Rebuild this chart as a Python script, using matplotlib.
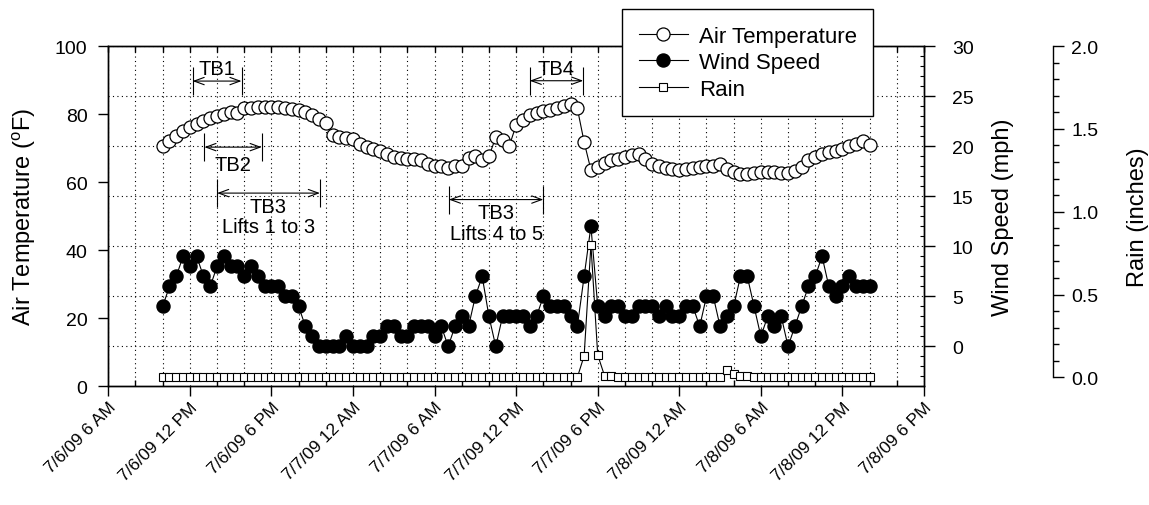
import matplotlib
matplotlib.use('Agg')
import matplotlib.pyplot as plt
import matplotlib.dates as mdates
import matplotlib.ticker as mticker
import pandas as pd

plt.rcParams['font.family'] = ['Liberation Sans', 'DejaVu Sans']

# half-hourly weather station readings
times = pd.date_range('2009-07-06 10:00', periods=105, freq='30min')

air_temp = [70.6, 72.2, 73.7, 75.0, 76.2, 77.1, 77.9, 78.8, 79.4, 80.1,
            80.7, 80.4, 81.7, 81.8, 82.0, 82.0, 82.0, 82.0, 81.8, 81.5,
            81.2, 80.5, 79.6, 78.6, 77.3, 73.9, 73.2, 72.9, 72.7, 71.3,
            70.3, 69.8, 69.3, 68.3, 67.5, 67.1, 66.9, 66.9, 66.4, 65.4,
            64.9, 64.7, 64.2, 64.7, 64.9, 67.2, 67.8, 66.4, 67.6, 73.2,
            72.4, 70.7, 76.8, 78.4, 79.6, 80.4, 81.0, 81.3, 81.8, 82.5,
            83.0, 81.7, 71.8, 63.6, 64.4, 65.7, 66.6, 66.9, 67.3, 68.0,
            68.3, 66.9, 65.4, 64.7, 64.1, 63.9, 63.6, 63.9, 64.1, 64.4,
            64.7, 64.9, 65.4, 63.9, 62.9, 62.4, 62.4, 62.6, 62.9, 62.9,
            62.9, 62.6, 62.6, 63.2, 64.4, 66.4, 67.3, 68.3, 68.8, 69.3,
            69.8, 70.6, 71.3, 72.2, 71.0]

wind_speed = [4, 6, 7, 9, 8, 9, 7, 6, 8, 9, 8, 8, 7, 8, 7, 6, 6, 6, 5, 5,
              4, 2, 1, 0, 0, 0, 0, 1, 0, 0, 0, 1, 1, 2, 2, 1, 1, 2, 2, 2,
              1, 2, 0, 2, 3, 2, 5, 7, 3, 0, 3, 3, 3,
              3, 2, 3, 5, 4, 4, 4, 3, 2, 7, 12, 4, 3, 4, 4, 3, 3, 4, 4, 4,
              3, 4, 3, 3, 4, 4, 2, 5, 5, 2, 3, 4, 7, 7, 4, 1, 3, 2, 3, 0,
              2, 4, 6, 7, 9, 6, 5, 6, 7, 6, 6, 6]

rain = [0.0] * 105
rain[62], rain[63], rain[64], rain[65], rain[66] = 0.13, 0.80, 0.135, 0.01, 0.01
rain[83], rain[84], rain[85], rain[86] = 0.045, 0.02, 0.01, 0.01

# test block windows
tb_labels = ['TB1', 'TB2', 'TB3\nLifts 1 to 3', 'TB4', 'TB3\nLifts 4 to 5']
tb_start = ['2009-07-06 12:12', '2009-07-06 13:04', '2009-07-06 14:00',
            '2009-07-07 13:00', '2009-07-07 07:03']
tb_end = ['2009-07-06 15:48', '2009-07-06 17:17', '2009-07-06 21:34',
          '2009-07-07 16:56', '2009-07-07 14:00']
tb_level = [89.7, 70.3, 56.8, 89.8, 54.9]

fig = plt.figure(figsize=(11.49, 5.06), dpi=100)
ax = fig.add_axes([0.09426, 0.23419, 0.70992, 0.67292])
ax_w = ax.twinx()
ax_r = ax.twinx()
ax_w.set_zorder(1)
ax.set_zorder(2)
ax_r.set_zorder(3)
ax.patch.set_visible(False)

dots = (0, (1, 3))

l1, = ax.plot(times, air_temp, '-o', color='k', mfc='w', mec='k', ms=9.4,
              mew=0.9, lw=0.8, label='Air Temperature')
l2, = ax_w.plot(times, wind_speed, '-o', color='k', ms=9.4, lw=0.8,
                label='Wind Speed')
l3, = ax_r.plot(times, rain, '-s', color='k', mfc='w', ms=5.2, mew=0.8,
                lw=0.8, label='Rain')

ax.set_xlim(pd.Timestamp('2009-07-06 06:00'), pd.Timestamp('2009-07-08 18:00'))
ax.set_ylim(0, 100)
ax_w.set_ylim(-4, 30)
ax_r.set_ylim(-0.055, 2.0)

# x axis: 6-hour labels, 2-hour minor ticks
def fmt_time(x, pos=None):
    d = mdates.num2date(x)
    h = d.hour % 12 or 12
    ampm = 'AM' if d.hour < 12 else 'PM'
    return f'{d.month}/{d.day}/{d:%y} {h} {ampm}'

ax.xaxis.set_major_locator(mdates.HourLocator(byhour=[0, 6, 12, 18]))
ax.xaxis.set_minor_locator(mdates.HourLocator(byhour=range(0, 24, 2)))
ax.xaxis.set_major_formatter(mticker.FuncFormatter(fmt_time))
ax.tick_params(axis='x', which='major', direction='out', length=7, width=1,
               labelsize=12.5, pad=2)
ax.tick_params(axis='x', which='minor', direction='in', length=4, width=1)
plt.setp(ax.get_xticklabels(), rotation=45, ha='right', rotation_mode='anchor')

# top ticks and the dotted grid live on the wind axes (drawn underneath)
ax_w.xaxis.set_visible(True)
ax_w.tick_params(axis='x', which='both', bottom=False, top=True,
                 labelbottom=False, labeltop=False, direction='in',
                 length=4, width=1)
ax_w.grid(True, which='both', axis='x', color='k', lw=0.8, linestyle=dots)
ax_w.grid(True, which='major', axis='y', color='k', lw=0.8, linestyle=dots)

ax.set_yticks(range(0, 101, 20))
ax.tick_params(axis='y', direction='out', length=7, width=1, labelsize=14, pad=8)
ax.set_ylabel(r'Air Temperature ($\mathregular{^o}$F)', fontsize=17)
ax.yaxis.set_label_coords(-0.0861, 0.5)

ax_w.set_yticks(range(0, 31, 5))
ax_w.yaxis.set_minor_locator(mticker.MultipleLocator(1))
ax_w.tick_params(axis='y', which='major', direction='out', length=8, width=1,
                 labelsize=14, pad=12)
ax_w.tick_params(axis='y', which='minor', direction='in', length=3, width=0.8)
ax_w.set_ylabel('Wind Speed (mph)', fontsize=17)
ax_w.yaxis.set_label_coords(1.0832, 0.5)

ax_r.spines['right'].set_position(('axes', 1.1582))
ax_r.spines['right'].set_bounds(0, 2)
for s in ['left', 'top', 'bottom']:
    ax_r.spines[s].set_visible(False)
ax_r.set_yticks([0, 0.5, 1.0, 1.5, 2.0])
ax_r.yaxis.set_minor_locator(mticker.FixedLocator([v / 10 for v in range(21)]))
ax_r.yaxis.set_major_formatter(mticker.FormatStrFormatter('%.1f'))
ax_r.tick_params(axis='y', which='major', direction='out', length=8, width=1,
                 labelsize=14, pad=5)
ax_r.tick_params(axis='y', which='minor', direction='out', length=4, width=1)
ax_r.set_ylabel('Rain (inches)', fontsize=17)
ax_r.yaxis.set_label_coords(1.2487, 0.5)

for a in (ax, ax_w):
    for s in a.spines.values():
        s.set_linewidth(1.0)
ax_r.spines['right'].set_linewidth(1.0)

# test block brackets
text_offset = [5.0, -5.5, -2.8, 5.0, -2.6]
for lab, t0, t1, lev, off in zip(tb_labels, tb_start, tb_end, tb_level, text_offset):
    t0, t1 = pd.Timestamp(t0), pd.Timestamp(t1)
    ax.vlines([t0, t1], lev - 4.1, lev + 4.1, color='k', lw=0.8)
    ax.annotate('', xy=(t1, lev), xytext=(t0, lev),
                arrowprops=dict(arrowstyle='<->,head_length=0.6,head_width=0.22',
                                mutation_scale=12, lw=0.8, color='k',
                                shrinkA=0, shrinkB=0))
    mid = t0 + (t1 - t0) / 2
    ax.annotate(lab, xy=(mid, lev), xytext=(0, off), textcoords='offset points',
                ha='center', va='baseline' if off > 0 else 'top',
                fontsize=14.5, linespacing=1.1)

fig.legend(handles=[l1, l2, l3], loc='upper left',
           bbox_to_anchor=(622 / 1149, 1 - 10 / 506), borderaxespad=0,
           fontsize=16, frameon=True, fancybox=False, edgecolor='k',
           framealpha=1, handlelength=2.2, handletextpad=0.5,
           labelspacing=0.25, borderpad=0.75)

fig.savefig('out.png', dpi=100)
